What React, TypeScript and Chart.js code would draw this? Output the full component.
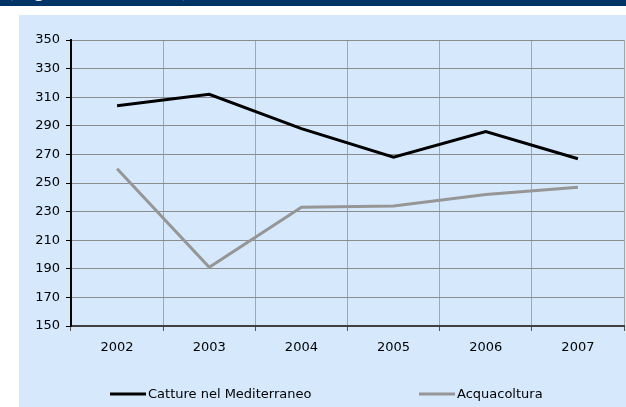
import React, { useEffect, useRef } from "react";
import { Chart, registerables } from "chart.js";
Chart.register(...registerables);

const years = ["2002", "2003", "2004", "2005", "2006", "2007"];
const catture = [304, 312, 288, 268, 286, 267];
const acquacoltura = [260, 191, 233, 234, 242, 247];
const seriesLabels = ["Catture nel Mediterraneo", "Acquacoltura"];
const yMin = 150;
const yMax = 350;
const yStep = 20;

const FONT = "'DejaVu Sans', Verdana, sans-serif";

const legendPlugin = {
  id: "customLegend",
  afterDraw(chart: any) {
    const ctx = chart.ctx;
    const xs = [91, 400];
    const y = 379;
    chart.data.datasets.forEach((ds: any, i: number) => {
      const x = xs[i];
      ctx.save();
      ctx.strokeStyle = ds.borderColor;
      ctx.lineWidth = 3;
      ctx.beginPath();
      ctx.moveTo(x, y);
      ctx.lineTo(x + 36, y);
      ctx.stroke();
      ctx.fillStyle = "#000";
      ctx.font = `13px ${FONT}`;
      ctx.textBaseline = "middle";
      ctx.textAlign = "left";
      ctx.fillText(ds.label, x + 38, y + 0.5);
      ctx.restore();
    });
  },
};

export default function App() {
  const ref = useRef<HTMLCanvasElement>(null);
  useEffect(() => {
    if (!ref.current) return;
    const chart = new Chart(ref.current, {
      type: "line",
      data: {
        labels: years,
        datasets: [
          {
            label: seriesLabels[0],
            data: catture,
            borderColor: "#000000",
            borderWidth: 3,
            pointRadius: 0,
            tension: 0,
          },
          {
            label: seriesLabels[1],
            data: acquacoltura,
            borderColor: "#969696",
            borderWidth: 3,
            pointRadius: 0,
            tension: 0,
          },
        ],
      },
      options: {
        animation: false,
        responsive: false,
        devicePixelRatio: 1,
        layout: { padding: { top: 25, right: 2, left: 0, bottom: 0 } },
        plugins: { legend: { display: false }, tooltip: { enabled: false } },
        scales: {
          x: {
            type: "category",
            offset: true,
            grid: {
              offset: true,
              color: "#a6a6a6",
              tickColor: "#555",
              tickLength: 5,
              lineWidth: 1,
            },
            border: { color: "#404040", width: 2 },
            ticks: {
              color: "#000",
              font: { family: FONT, size: 13 },
              padding: 9,
              maxRotation: 0,
            },
            afterFit: (s: any) => {
              s.height = 81;
            },
          },
          y: {
            min: yMin,
            max: yMax,
            grid: {
              color: "#8c8c8c",
              tickColor: "#000",
              tickLength: 5,
              lineWidth: 1,
            },
            border: { color: "#000", width: 2 },
            ticks: {
              stepSize: yStep,
              color: "#000",
              font: { family: FONT, size: 13 },
              padding: 6,
            },
            afterFit: (s: any) => {
              s.width = 52;
            },
          },
        },
      },
      plugins: [legendPlugin],
    });
    return () => chart.destroy();
  }, []);

  return (
    <div
      style={{
        position: "fixed",
        left: 0,
        top: 0,
        width: 626,
        height: 407,
        background: "#ffffff",
        overflow: "hidden",
      }}
    >
      <div
        style={{
          position: "absolute",
          left: 0,
          top: 0,
          width: 626,
          height: 6,
          background: "#003366",
          overflow: "hidden",
        }}
      >
        <span
          style={{
            position: "absolute",
            left: 6,
            top: -21,
            fontFamily: "'Liberation Serif', serif",
            fontSize: 20,
            lineHeight: "20px",
            color: "#ffffff",
            whiteSpace: "nowrap",
          }}
        >
          (migliaia di tonnellate)
        </span>
      </div>
      <div
        style={{
          position: "absolute",
          left: 19,
          top: 15,
          width: 607,
          height: 392,
          background: "#d5e8fc",
        }}
      >
        <canvas
          ref={ref}
          width={607}
          height={392}
          style={{ display: "block", width: 607, height: 392 }}
        />
      </div>
    </div>
  );
}
